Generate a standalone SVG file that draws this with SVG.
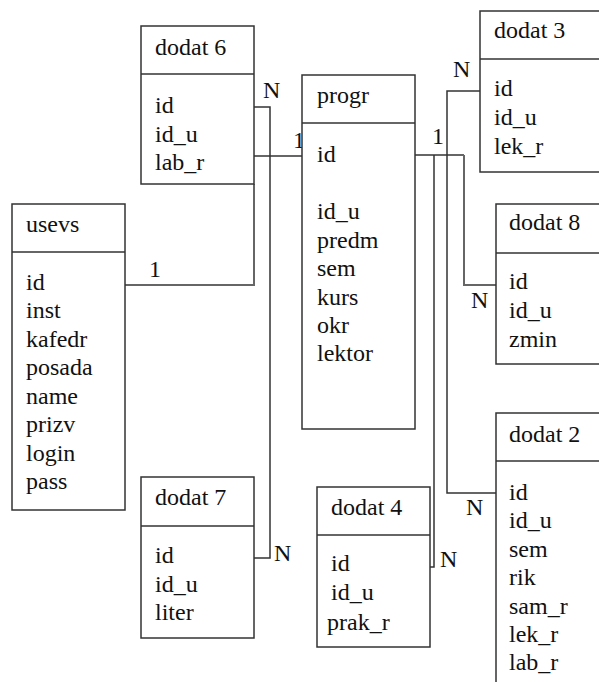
<svg xmlns="http://www.w3.org/2000/svg" width="599" height="682" viewBox="0 0 599 682">
<style>
text{font-family:'Liberation Serif','DejaVu Serif','Times New Roman',Times,serif;font-size:24px;fill:#111}
.box{fill:#fff;stroke:#333;stroke-width:1.5}
.sep{stroke:#333;stroke-width:1.5}
.c{fill:none;stroke:#333;stroke-width:1.5}
.g{fill:none;stroke:#666;stroke-width:2}
</style>
<rect width="599" height="682" fill="#fff"/>
<g id="connectors" font-family="Liberation Serif, DejaVu Serif, serif">
<polyline class="c" points="254,107 270,107 270,558 254,558"/>
<line class="c" x1="254" y1="156" x2="302" y2="156"/>
<polyline class="g" points="125,285 254,285 254,184"/>
<line class="c" x1="415" y1="155" x2="464" y2="155"/>
<polyline class="c" points="434,155 434,567 430,567"/>
<polyline class="c" points="480,91 447,91 447,493 496,493"/>
<polyline class="g" points="464,155 464,285 496,285"/>
<text x="263" y="98">N</text>
<text x="274" y="561">N</text>
<text x="293" y="148">1</text>
<text x="149" y="277">1</text>
<text x="432" y="144">1</text>
<text x="453" y="77">N</text>
<text x="466" y="515">N</text>
<text x="471" y="308">N</text>
<text x="440" y="567">N</text>
</g>
<g id="dodat6" font-family="Liberation Serif, DejaVu Serif, serif">
<rect class="box" x="141" y="26" width="113" height="158"/>
<line class="sep" x1="141" y1="74" x2="254" y2="74"/>
<text x="155" y="55">dodat 6</text>
<text x="155" y="113">id</text>
<text x="155" y="142">id_u</text>
<text x="155" y="170">lab_r</text>
</g>
<g id="progr" font-family="Liberation Serif, DejaVu Serif, serif">
<rect class="box" x="302" y="75" width="113" height="354"/>
<line class="sep" x1="302" y1="123" x2="415" y2="123"/>
<text x="317" y="103">progr</text>
<text x="317" y="162">id</text>
<text x="317" y="219">id_u</text>
<text x="317" y="248">predm</text>
<text x="317" y="276">sem</text>
<text x="317" y="305">kurs</text>
<text x="317" y="333">okr</text>
<text x="317" y="361">lektor</text>
</g>
<g id="dodat3" font-family="Liberation Serif, DejaVu Serif, serif">
<rect class="box" x="480" y="11" width="130" height="161"/>
<line class="sep" x1="480" y1="59" x2="610" y2="59"/>
<text x="494" y="38">dodat 3</text>
<text x="494" y="96">id</text>
<text x="494" y="125">id_u</text>
<text x="494" y="154">lek_r</text>
</g>
<g id="usevs" font-family="Liberation Serif, DejaVu Serif, serif">
<rect class="box" x="12" y="204" width="113" height="306"/>
<line class="sep" x1="12" y1="252" x2="125" y2="252"/>
<text x="26" y="232">usevs</text>
<text x="26" y="290">id</text>
<text x="26" y="318">inst</text>
<text x="26" y="347">kafedr</text>
<text x="26" y="375">posada</text>
<text x="26" y="404">name</text>
<text x="26" y="432">prizv</text>
<text x="26" y="461">login</text>
<text x="26" y="489">pass</text>
</g>
<g id="dodat8" font-family="Liberation Serif, DejaVu Serif, serif">
<rect class="box" x="496" y="204" width="114" height="160"/>
<line class="sep" x1="496" y1="253" x2="610" y2="253"/>
<text x="509" y="230">dodat 8</text>
<text x="509" y="289">id</text>
<text x="509" y="318">id_u</text>
<text x="509" y="347">zmin</text>
</g>
<g id="dodat2" font-family="Liberation Serif, DejaVu Serif, serif">
<rect class="box" x="496" y="413" width="114" height="290"/>
<line class="sep" x1="496" y1="461" x2="610" y2="461"/>
<text x="509" y="442">dodat 2</text>
<text x="509" y="500">id</text>
<text x="509" y="528">id_u</text>
<text x="509" y="557">sem</text>
<text x="509" y="585">rik</text>
<text x="509" y="614">sam_r</text>
<text x="509" y="642">lek_r</text>
<text x="509" y="670">lab_r</text>
</g>
<g id="dodat7" font-family="Liberation Serif, DejaVu Serif, serif">
<rect class="box" x="141" y="477" width="113" height="161"/>
<line class="sep" x1="141" y1="526" x2="254" y2="526"/>
<text x="155" y="505">dodat 7</text>
<text x="155" y="563">id</text>
<text x="155" y="592">id_u</text>
<text x="155" y="620">liter</text>
</g>
<g id="dodat4" font-family="Liberation Serif, DejaVu Serif, serif">
<rect class="box" x="317" y="487" width="113" height="160"/>
<line class="sep" x1="317" y1="535" x2="430" y2="535"/>
<text x="331" y="515">dodat 4</text>
<text x="331" y="571">id</text>
<text x="331" y="600">id_u</text>
<text x="327" y="630">prak_r</text>
</g>
</svg>
